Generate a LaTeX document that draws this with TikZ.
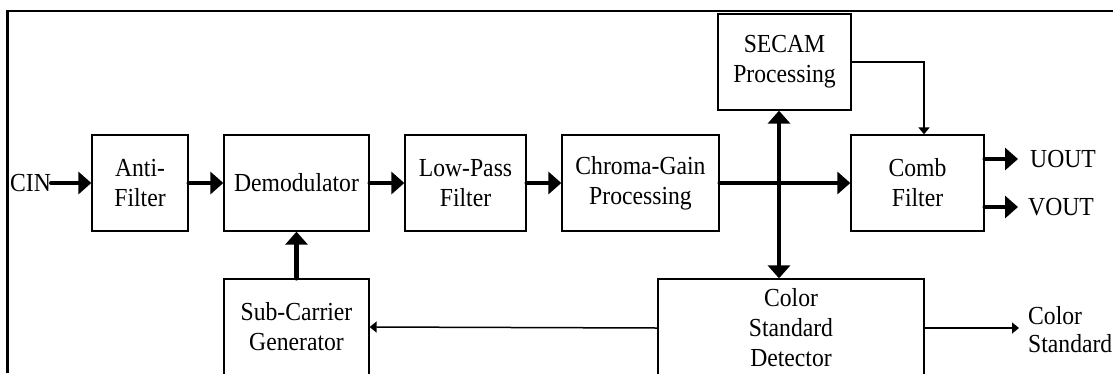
\documentclass[tikz,border=0pt]{standalone}
\usepackage{fontspec}
\setmainfont{Liberation Serif}[FakeStretch=0.91]
\usetikzlibrary{arrows.meta}
\tikzstyle{block} = [draw,line width=1.3pt,inner sep=0pt,align=center,font=\fontsize{26}{30}\selectfont]
\tikzstyle{sig} = [inner sep=0pt,align=left,font=\fontsize{26}{28}\selectfont]
\tikzstyle{bus} = [line width=4.3pt,line cap=round,-{Triangle[length=13pt,width=22pt]}]
\tikzstyle{dbus} = [line width=4.3pt,{Triangle[length=13pt,width=22pt]}-{Triangle[length=13pt,width=22pt]}]
\tikzstyle{wire} = [line width=1.5pt,-{Triangle[length=7pt,width=11pt]}]

\begin{document}
\begin{tikzpicture}[x=1pt,y=-1pt]

\clip (0,0) rectangle (1113,373);
\draw[line width=2.5pt] (7.5,373) -- (7.5,11) -- (1113,11);

% main chain
\node[sig,anchor=west] (cin) at (10,183) {CIN};
\node[block,minimum width=96pt,minimum height=96pt] (anti) at (140,183) {Anti-\\Filter};
\node[block,minimum width=145pt,minimum height=96pt] (demod) at (296.5,183) {Demodulator};
\node[block,minimum width=121pt,minimum height=96pt] (lpf) at (465.5,183) {Low-Pass\\Filter};
\node[block,minimum width=157pt,minimum height=96pt] (gain) at (640.5,183) {Chroma-Gain\\Processing};
\node[block,minimum width=133pt,minimum height=96pt] (secam) at (784.5,62) {SECAM\\Processing};
\node[block,minimum width=133pt,minimum height=96pt] (comb) at (917.5,183) {Comb\\Filter};
\node[block,minimum width=145pt,minimum height=96pt] (sub) at (296.5,327) {Sub-Carrier\\Generator};
\node[block,minimum width=266pt,minimum height=98pt] (csd) at (791,328) {Color\\Standard\\Detector};
\coordinate (cross) at (779,183);

% outputs
\node[sig,anchor=west] (uout) at (1030,159) {UOUT};
\node[sig,anchor=west] (vout) at (1028,207) {VOUT};
\node[sig,anchor=west] (cstd) at (1028,330) {Color\\Standard};

\draw[bus] (cin.east) -- (anti.west);
\draw[bus] (anti.east) -- (demod.west);
\draw[bus] (demod.east) -- (lpf.west);
\draw[bus] (lpf.east) -- (gain.west);
\draw[bus] (gain.east) -- (comb.west);
\draw[bus] (sub.north) -- (demod.south);
\draw[dbus] (cross |- secam.south) -- (cross |- csd.north);
\draw[bus,shorten >=12pt] (comb.east |- uout) -- (uout.west);
\draw[bus,shorten >=10pt] (comb.east |- vout) -- (vout.west);

\draw[wire] (secam.east) -| ([xshift=6.5pt]comb.north);
\draw[wire] (csd.west) -- (sub.east);
\draw[wire,shorten >=9pt] (csd.east) -- (csd.east -| cstd.west);

\end{tikzpicture}
\end{document}
